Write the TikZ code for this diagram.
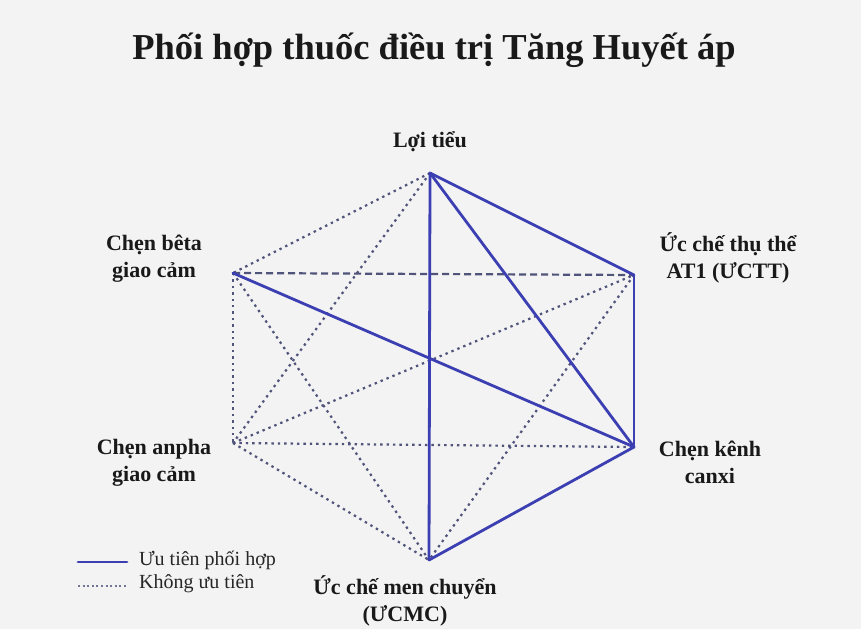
\documentclass[tikz,border=0pt]{standalone}
\usepackage{fontspec}
\setmainfont{Liberation Serif}
\definecolor{bgc}{HTML}{F3F3F3}
\definecolor{lineblue}{HTML}{3B3FB2}
\definecolor{dotc}{HTML}{50537A}
\begin{document}
\begin{tikzpicture}[x=1pt,y=-1pt,
  lbl/.style={font=\bfseries\fontsize{22}{27}\selectfont,align=center,text=black!90,inner sep=0pt},
  prio/.style={draw=lineblue,line width=2.8pt,line cap=round,line join=round},
  nonprio/.style={draw=dotc,line width=2.2pt,dash pattern=on 2.4pt off 4pt},
  nonprioD/.style={draw=dotc,line width=2.2pt,dash pattern=on 7pt off 4pt},
  legtxt/.style={font=\fontsize{20}{24}\selectfont,anchor=west,inner sep=0pt,text=black!85}]
\fill[bgc] (0,0) rectangle (861,629);
\useasboundingbox (0,0) rectangle (861,629);
% title
\node[font=\bfseries\fontsize{36.5}{40}\selectfont,inner sep=0pt,text=black!90] (title) at (434,50) {Phối hợp thuốc điều trị Tăng Huyết áp};
% vertices
\coordinate (top) at (430,173);
\coordinate (uctt) at (634,275);
\coordinate (ccb) at (634,447);
\coordinate (ace) at (429,560);
\coordinate (alpha) at (233,443);
\coordinate (beta) at (233,273);
% non-priority
\draw[nonprio] (top) -- (beta);
\draw[nonprio] (top) -- (alpha);
\draw[nonprioD] (beta) -- (uctt);
\draw[nonprio] (beta) -- (alpha);
\draw[nonprio] (beta) -- (ace);
\draw[nonprio] (alpha) -- (uctt);
\draw[nonprio] (alpha) -- (ccb);
\draw[nonprio] (alpha) -- (ace);
\draw[nonprio] (uctt) -- (ace);
% priority
\draw[prio] (top) -- (uctt);
\draw[prio] (top) -- (ccb);
\draw[prio] (top) -- (ace);
\draw[prio] (uctt) -- (ccb);
\draw[prio] (ccb) -- (ace);
\draw[prio] (beta) -- (ccb);
% labels
\node[lbl] (ltop) at (430,142) {Lợi tiểu};
\node[lbl] (luctt) at (728,258) {Ức chế thụ thể\\AT1 (ƯCTT)};
\node[lbl] (lccb) at (710,462) {Chẹn kênh\\canxi};
\node[lbl] (lbeta) at (154,259) {Chẹn bêta\\giao cảm};
\node[lbl] (lalpha) at (154,463) {Chẹn anpha\\giao cảm};
\node[lbl] (lace) at (405,601) {Ức chế men chuyển\\(ƯCMC)};
% legend
\coordinate (l1a) at (78,562); \coordinate (l1b) at (127,562);
\coordinate (l2a) at (78,586); \coordinate (l2b) at (127,586);
\draw[prio] (l1a) -- (l1b);
\draw[draw=dotc!80,line width=1.5pt,dash pattern=on 2pt off 2.6pt] (l2a) -- (l2b);
\node[legtxt] (t1) at (139,560) {Ưu tiên phối hợp};
\node[legtxt] (t2) at (139,584) {Không ưu tiên};
\end{tikzpicture}
\end{document}
